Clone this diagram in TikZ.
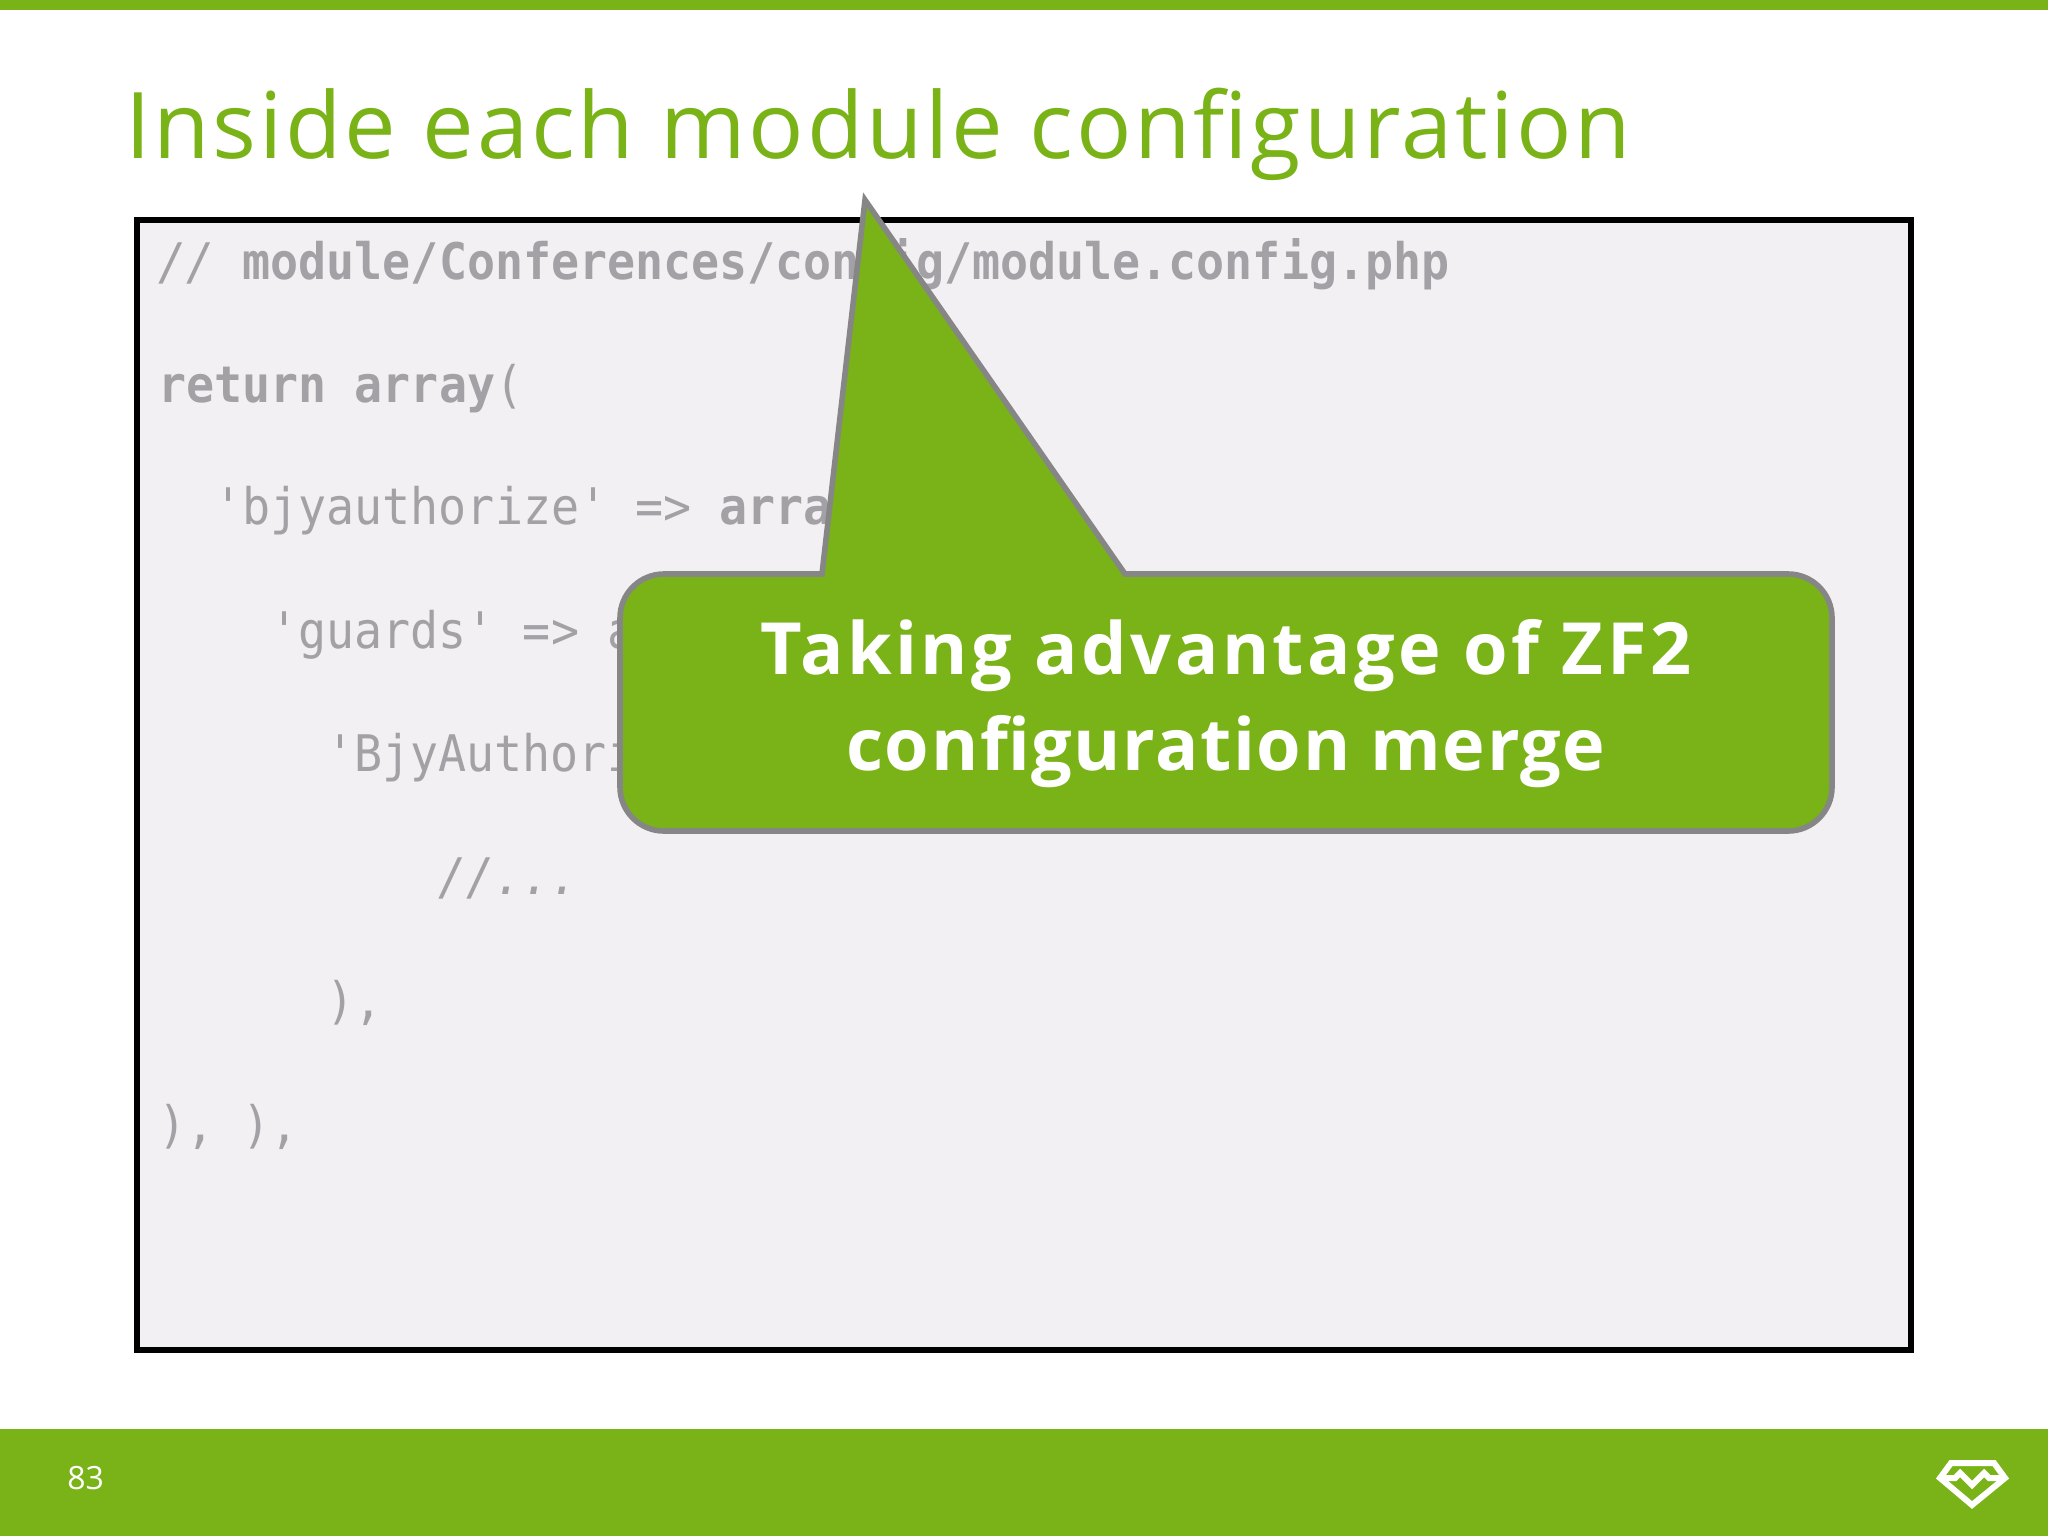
\documentclass[tikz,border=0pt]{standalone}
\usepackage{fontspec}
\setmainfont{Open Sans}
\setmonofont[FakeStretch=0.925]{DejaVu Sans Mono}
\definecolor{brandgreen}{HTML}{7AB317}
\definecolor{codebg}{HTML}{F2F0F3}
\definecolor{codegray}{HTML}{A3A1A5}
\definecolor{calloutline}{HTML}{868686}
\tikzset{
  codeline/.style={anchor=base west,inner sep=0pt,text=codegray,font=\ttfamily\fontsize{25.2pt}{28pt}\selectfont},
  titletext/.style={anchor=base west,inner sep=0pt,text=brandgreen,font=\fontsize{46pt}{50pt}\selectfont\addfontfeature{LetterSpace=2.95}},
  callouttext/.style={anchor=base,inner sep=0pt,text=white,font=\bfseries\fontsize{36pt}{42pt}\selectfont},
  barfill/.style={fill=brandgreen,draw=none},
  logoline/.style={draw=white,line width=3pt,line join=miter}
}
\begin{document}
\begin{tikzpicture}[x=0.5pt,y=-0.5pt]
\useasboundingbox (0,0) rectangle (2048,1536);
\fill[white] (0,0) rectangle (2048,1536);
\path[barfill] (0,0) rectangle (2048,10);
\path[barfill] (0,1429) rectangle (2048,1536);
\node[titletext] (title) at (125,158) {Inside each module configuration};
\draw[draw=black,fill=codebg,line width=2.8pt,line join=miter] (137,220) rectangle (1911,1350);
\node[codeline] (l1) at (158,279) {\itshape //\upshape\ \bfseries module/Conferences/config/module.config.php};
\node[codeline] (l2) at (158,402) {\bfseries return array\mdseries(};
\node[codeline] (l3) at (214,524) {'bjyauthorize' => \bfseries array(};
\node[codeline] (l4) at (270,648) {'guards' => array(};
\node[codeline] (l5) at (326,771) {'BjyAuthorize};
\node[codeline] (l6) at (438,894) {\itshape //...};
\node[codeline] (l7) at (326,1018) {),};
\node[codeline] (l8) at (158,1142) {), ),};
\coordinate (tip) at (865,200);
\coordinate (bl) at (822,574);
\coordinate (br) at (1125,574);
\draw[draw=calloutline,fill=brandgreen,line width=2.8pt,line join=miter]
  (tip) -- (br) -- (1788,574) arc[start angle=-90,end angle=0,radius=44]
  -- (1832,787) arc[start angle=0,end angle=90,radius=44]
  -- (664,831) arc[start angle=90,end angle=180,radius=44]
  -- (620,618) arc[start angle=180,end angle=270,radius=44]
  -- (bl) -- cycle;
\node[callouttext,font=\bfseries\fontsize{36pt}{42pt}\selectfont\addfontfeature{LetterSpace=4.9}] (c1) at (1226,674) {Taking advantage of ZF2};
\node[callouttext,font=\bfseries\fontsize{36pt}{42pt}\selectfont\addfontfeature{LetterSpace=2.2}] (c2) at (1226,770) {configuration merge};
\node[anchor=base west,inner sep=0pt,text=white,font=\fontsize{16pt}{18pt}\selectfont] (page) at (67,1489) {83};
\draw[logoline] (1951,1463) -- (1994,1463) -- (2005,1478) -- (1972,1505) -- (1940,1478) -- cycle;
\draw[logoline] (1940,1478) -- (1955,1478) -- (1960,1473) -- (1972,1485) -- (1984,1473) -- (1989,1478) -- (2005,1478);
\end{tikzpicture}
\end{document}
